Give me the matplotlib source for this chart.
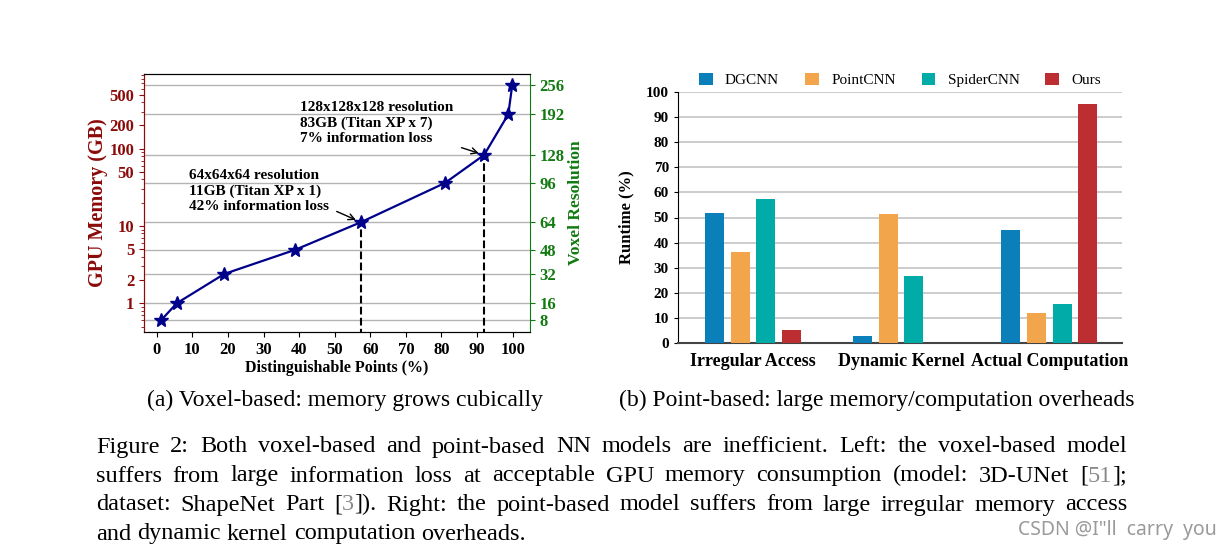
import re
import numpy as np
import matplotlib.pyplot as plt
from matplotlib.ticker import NullFormatter, NullLocator

plt.rcParams['font.family'] = 'Liberation Serif'

# (a) voxel-based: distinguishable points vs. GPU memory
points = [1.3, 5.6, 19.0, 38.8, 57.4, 81.0, 92.0, 98.8, 99.9]
memory = [0.61, 1.0, 2.4, 4.9, 11.2, 36, 83, 279, 660]
resolution = [8, 16, 32, 48, 64, 96, 128, 192, 256]
mem_ticks = [1, 2, 5, 10, 50, 100, 200, 500]

# (b) point-based: runtime breakdown (%)
categories = ['Irregular Access', 'Dynamic Kernel', 'Actual Computation']
models = ['DGCNN', 'PointCNN', 'SpiderCNN', 'Ours']
dgcnn = [51.8, 2.9, 45.0]
pointcnn = [36.2, 51.5, 11.9]
spidercnn = [57.5, 26.7, 15.5]
ours = [5.1, 0, 95.3]
colors = ['#0a7fba', '#f2a54a', '#00aba8', '#bc2e32']

caption_a = '(a) Voxel-based: memory grows cubically'
caption_b = '(b) Point-based: large memory/computation overheads'
caption = [
    'Figure 2: Both voxel-based and point-based NN models are inefficient. Left: the voxel-based model',
    'suffers from large information loss at acceptable GPU memory consumption (model: 3D-UNet [{51}];',
    'dataset: ShapeNet Part [{3}]). Right: the point-based model suffers from large irregular memory access',
    'and dynamic kernel computation overheads.',
]

W, H = 1223, 552
DARKRED = '#8b0a0a'
GREEN = '#117a11'
NAVY = '#00008b'

fig = plt.figure(figsize=(W / 100, H / 100), dpi=100)

# ---------- left chart ----------
ax = fig.add_axes([144 / W, 1 - 332 / H, 386 / W, 258 / H])
for m in memory:
    ax.axhline(m, color='#b4b4b4', lw=1, zorder=0)
ax.plot(points, memory, color=NAVY, lw=1.6, marker='*', ms=10, zorder=3)
ax.vlines([points[4], points[6]], 0.01, [memory[4], memory[6]],
          colors='k', linestyles='--', lw=1.5, zorder=2)
ax.set_yscale('log')
ax.set_ylim(0.425, 925)
ax.set_xlim(-3.6, 104.9)
ax.set_xticks(range(0, 101, 10))
ax.set_yticks(mem_ticks)
ax.set_yticklabels([str(v) for v in mem_ticks])
ax.yaxis.set_minor_formatter(NullFormatter())
ax.tick_params(axis='y', which='both', colors=DARKRED, labelsize=12)
ax.tick_params(axis='x', labelsize=12)
for lab in ax.get_xticklabels() + ax.get_yticklabels():
    lab.set_fontweight('bold')
ax.set_xlabel('Distinguishable Points (%)', fontsize=11.5, fontweight='bold', labelpad=2)
ax.set_ylabel('GPU Memory (GB)', fontsize=14.5, fontweight='bold', color=DARKRED, labelpad=1)

ax.annotate('64x64x64 resolution\n11GB (Titan XP x 1)\n42% information loss',
            xy=(points[4], memory[4]), xytext=(9, 55), va='top', ha='left',
            fontsize=11, fontweight='bold', linespacing=1.25,
            arrowprops=dict(arrowstyle='->', color='k', lw=1, relpos=(1.0, 0.12),
                            shrinkA=4, shrinkB=4))
ax.annotate('128x128x128 resolution\n83GB (Titan XP x 7)\n7% information loss',
            xy=(points[6], memory[6]), xytext=(40.3, 420), va='top', ha='left',
            fontsize=11, fontweight='bold', linespacing=1.25,
            arrowprops=dict(arrowstyle='->', color='k', lw=1, relpos=(1.0, 0.0),
                            shrinkA=4, shrinkB=4))

ax2 = ax.twinx()
ax2.set_yscale('log')
ax2.set_ylim(ax.get_ylim())
ax2.set_yticks(memory)
ax2.set_yticklabels([str(r) for r in resolution])
ax2.yaxis.set_minor_locator(NullLocator())
ax2.tick_params(axis='y', colors=GREEN, labelsize=12)
for lab in ax2.get_yticklabels():
    lab.set_fontweight('bold')
ax2.set_ylabel('Voxel Resolution', fontsize=12.5, fontweight='bold', color=GREEN, labelpad=2)
ax2.spines['left'].set_color(DARKRED)
ax2.spines['right'].set_color(GREEN)
ax.spines['left'].set_color(DARKRED)
ax.spines['right'].set_visible(False)

# ---------- right chart ----------
bx = fig.add_axes([678 / W, 1 - 343 / H, 444 / W, 251 / H])
x = np.arange(len(categories))
step, width = 0.173, 0.128
for i, (vals, name, c) in enumerate(zip([dgcnn, pointcnn, spidercnn, ours], models, colors)):
    bx.bar(x + (i - 1.5) * step, vals, width, color=c, label=name, zorder=3)
bx.set_xlim(-0.505, 2.49)
bx.set_ylim(0, 100)
bx.set_yticks(range(0, 101, 10))
bx.set_xticks(x)
bx.set_xticklabels(categories, fontsize=13, fontweight='bold')
bx.tick_params(axis='x', length=0, pad=7)
bx.tick_params(axis='y', labelsize=11, length=3)
for lab in bx.get_yticklabels():
    lab.set_fontweight('bold')
bx.grid(axis='y', color='#c8c8c8', lw=1.3, zorder=0)
bx.set_axisbelow(True)
bx.spines['top'].set_visible(False)
bx.spines['right'].set_visible(False)
bx.spines['bottom'].set_color('#444444')
bx.spines['bottom'].set_linewidth(1.5)
bx.set_ylabel('Runtime (%)', fontsize=12, fontweight='bold', labelpad=8)
bx.legend(ncol=4, loc='center', bbox_to_anchor=(0.5, 1.048), frameon=False,
          handlelength=0.9, handleheight=0.9, handletextpad=0.8, columnspacing=1.7,
          prop={'family': 'Liberation Serif', 'size': 11})

# ---------- captions ----------
fig.text(345 / W, 1 - 400 / H, caption_a, ha='center', va='center', fontsize=17)
fig.text(877 / W, 1 - 400 / H, caption_b, ha='center', va='center', fontsize=17)

renderer = fig.canvas.get_renderer()
x0, x1 = 96, 1127
CAP_SIZE = 17.5


def caption_line(text, y, justify=True):
    words = []
    for w in text.split(' '):
        segs = []
        for part in re.split(r'(\{[^}]*\})', w):
            if not part:
                continue
            gray = part.startswith('{')
            t = fig.text(0, 1 - y / H, part.strip('{}'), fontsize=CAP_SIZE, va='baseline',
                         color='#8a8a8a' if gray else 'black')
            segs.append(t)
        words.append(segs)
    widths = [[t.get_window_extent(renderer).width for t in segs] for segs in words]
    total = sum(sum(ws) for ws in widths)
    gap = (x1 - x0 - total) / (len(words) - 1) if justify else CAP_SIZE * 1.39 * 0.25
    xp = x0
    for segs, ws in zip(words, widths):
        for t, wd in zip(segs, ws):
            t.set_x(xp / W)
            xp += wd
        xp += gap


for i, line in enumerate(caption):
    caption_line(line, 452.5 + 29 * i, justify=(i < len(caption) - 1))

fig.text(1217 / W, 1 - 530 / H, 'CSDN @I"ll  carry  you', ha='right', va='center',
         color='#9a9a9a', fontsize=14, family='Noto Sans')

fig.savefig('out.png', dpi=100)
